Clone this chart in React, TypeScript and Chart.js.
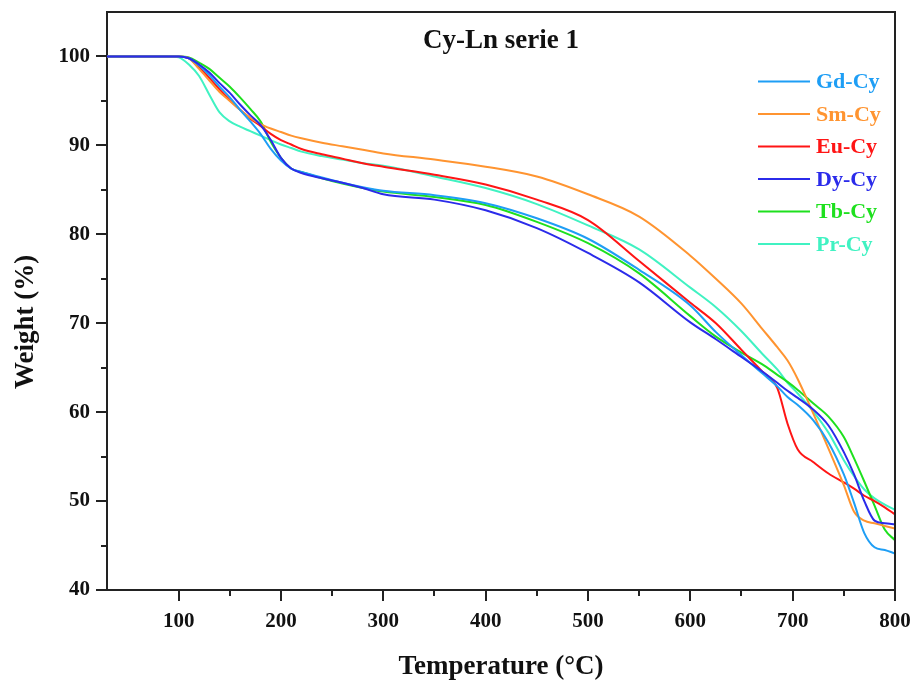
import React, { useEffect, useRef } from "react";
import { Chart, registerables } from "chart.js";

Chart.register(...registerables);

const temperatures = [30, 90, 100, 110, 120, 130, 140, 150, 160, 170, 180, 190, 200, 210, 220, 240, 260, 280, 300, 350, 400, 450, 500, 550, 600, 625, 650, 670, 685, 695, 705, 720, 735, 750, 760, 770, 780, 790, 800];

const gdCy = [100, 100, 100, 99.8, 99.0, 97.9, 96.6, 95.4, 94.0, 92.7, 91.3, 89.6, 88.3, 87.4, 87.0, 86.4, 85.8, 85.3, 84.9, 84.4, 83.5, 81.8, 79.5, 76.0, 72.0, 69.0, 66.4, 64.4, 62.9, 61.7, 60.8, 59.1, 56.6, 53.0, 49.8, 46.4, 44.8, 44.5, 44.1];
const smCy = [100, 100, 100, 99.8, 98.6, 97.3, 96.0, 95.0, 94.0, 93.1, 92.4, 91.9, 91.5, 91.1, 90.8, 90.3, 89.9, 89.5, 89.1, 88.4, 87.6, 86.5, 84.5, 82.0, 77.6, 75.0, 72.2, 69.4, 67.3, 65.8, 63.7, 59.9, 55.9, 51.8, 48.8, 47.8, 47.5, 47.2, 46.9];
const euCy = [100, 100, 100, 99.8, 98.8, 97.6, 96.3, 95.1, 94.0, 93.0, 92.2, 91.3, 90.6, 90.1, 89.6, 89.0, 88.5, 88.0, 87.6, 86.7, 85.6, 83.9, 81.6, 77.0, 72.3, 70.0, 67.0, 64.6, 62.7, 58.7, 55.8, 54.4, 53.1, 52.1, 51.4, 50.6, 50.0, 49.3, 48.5];
const dyCy = [100, 100, 100, 99.8, 99.1, 98.2, 97.0, 95.9, 94.6, 93.4, 92.3, 90.6, 88.6, 87.4, 86.9, 86.3, 85.8, 85.2, 84.5, 83.9, 82.7, 80.7, 77.9, 74.6, 70.1, 68.2, 66.2, 64.6, 63.3, 62.4, 61.6, 60.3, 58.5, 55.5, 53.0, 50.0, 47.8, 47.5, 47.4];
const tbCy = [100, 100, 100, 99.9, 99.3, 98.6, 97.6, 96.6, 95.4, 94.1, 92.7, 90.4, 88.6, 87.4, 87.0, 86.3, 85.7, 85.2, 84.8, 84.2, 83.3, 81.4, 79.0, 75.6, 70.8, 68.5, 66.7, 65.4, 64.2, 63.4, 62.5, 61.0, 59.5, 57.2, 54.8, 52.2, 49.5, 46.8, 45.6];
const prCy = [100, 100, 99.9, 99.1, 97.8, 95.7, 93.7, 92.7, 92.1, 91.6, 91.1, 90.6, 90.1, 89.7, 89.3, 88.8, 88.4, 88.0, 87.7, 86.5, 85.2, 83.4, 81.0, 78.3, 74.0, 71.8, 69.1, 66.6, 64.8, 63.3, 62.1, 60.1, 57.7, 54.6, 52.8, 51.3, 50.3, 49.6, 49.0];

const seriesLabels = ["Gd-Cy", "Sm-Cy", "Eu-Cy", "Dy-Cy", "Tb-Cy", "Pr-Cy"];
const seriesValues = [gdCy, smCy, euCy, dyCy, tbCy, prCy];
const seriesColors = ["#1E9EF5", "#FF9430", "#FF1515", "#2B2BEA", "#1EE01E", "#40F2C2"];
const seriesOrder = [1, 1, 1, 0, 1, 1];

const chartTitle = "Cy-Ln serie 1";
const xTitle = "Temperature (\u00B0C)";
const yTitle = "Weight (%)";

const SERIF = '"Liberation Serif", "Times New Roman", serif';

const decorPlugin = {
  id: "decor",
  afterDraw(chart: any) {
    const { ctx, chartArea, scales } = chart;
    const xs = scales.x;
    const ys = scales.y;
    ctx.save();
    ctx.strokeStyle = "#222";
    ctx.lineWidth = 2;
    // frame top and right
    ctx.beginPath();
    ctx.moveTo(chartArea.left - 1, chartArea.top);
    ctx.lineTo(chartArea.right, chartArea.top);
    ctx.lineTo(chartArea.right, chartArea.bottom + 1);
    ctx.stroke();
    // ticks
    ctx.beginPath();
    xs.ticks.forEach((t: any) => {
      const v = t.value;
      if (v % 50 !== 0) return;
      const len = v % 100 === 0 ? 11 : 6;
      const px = Math.round(xs.getPixelForValue(v));
      ctx.moveTo(px, chartArea.bottom);
      ctx.lineTo(px, chartArea.bottom + len);
    });
    ys.ticks.forEach((t: any) => {
      const v = t.value;
      if (v > 100) return;
      const len = v % 10 === 0 ? 11 : 6;
      const py = Math.round(ys.getPixelForValue(v));
      ctx.moveTo(chartArea.left, py);
      ctx.lineTo(chartArea.left - len, py);
    });
    ctx.stroke();

    // chart title
    ctx.fillStyle = "#111";
    ctx.font = `bold 27px ${SERIF}`;
    ctx.textAlign = "center";
    ctx.textBaseline = "alphabetic";
    ctx.fillText(chartTitle, (chartArea.left + chartArea.right) / 2, chartArea.top + 36);

    // x title
    ctx.fillText(xTitle, (chartArea.left + chartArea.right) / 2, 674);

    // y title
    ctx.save();
    ctx.translate(33, 322);
    ctx.rotate(-Math.PI / 2);
    ctx.fillText(yTitle, 0, 0);
    ctx.restore();

    // legend
    ctx.font = `bold 22px ${SERIF}`;
    ctx.textAlign = "left";
    ctx.textBaseline = "middle";
    chart.data.datasets.forEach((ds: any, i: number) => {
      const y = chartArea.top + 69.5 + i * 32.5;
      ctx.strokeStyle = ds.borderColor;
      ctx.lineWidth = 2;
      ctx.beginPath();
      ctx.moveTo(chartArea.right - 137, y);
      ctx.lineTo(chartArea.right - 85, y);
      ctx.stroke();
      ctx.fillStyle = ds.borderColor;
      ctx.fillText(ds.label, chartArea.right - 79, y + 1);
    });
    ctx.restore();
  },
};

export default function App() {
  const canvasRef = useRef<HTMLCanvasElement | null>(null);

  useEffect(() => {
    document.body.style.margin = "0";
    const canvas = canvasRef.current;
    if (!canvas) return;
    const datasets = seriesLabels.map((label, i) => ({
      label,
      data: temperatures.map((t, j) => ({ x: t, y: seriesValues[i][j] })),
      borderColor: seriesColors[i],
      backgroundColor: seriesColors[i],
      borderWidth: 2,
      pointRadius: 0,
      fill: false,
      cubicInterpolationMode: "monotone" as const,
      order: seriesOrder[i],
    }));
    const tickFont = { family: SERIF, size: 21, weight: "bold" as const };
    const chart = new Chart(canvas, {
      type: "line",
      data: { datasets },
      options: {
        animation: false,
        responsive: false,
        maintainAspectRatio: false,
        layout: { padding: { top: 12, right: 20, left: 0, bottom: 0 } },
        plugins: {
          legend: { display: false },
          tooltip: { enabled: false },
          title: { display: false },
        },
        scales: {
          x: {
            type: "linear",
            position: "bottom",
            min: 30,
            max: 800,
            grid: { display: false, drawTicks: true, tickLength: 11 },
            border: { display: true, color: "#222", width: 2 },
            ticks: {
              stepSize: 50,
              autoSkip: false,
              maxRotation: 0,
              padding: 8,
              color: "#111",
              font: tickFont,
              callback: (v: any) => (Number(v) % 100 === 0 ? String(v) : ""),
            },
            afterFit: (s: any) => {
              s.height = 93;
              s.paddingLeft = 0;
              s.paddingRight = 0;
            },
          },
          y: {
            type: "linear",
            min: 40,
            max: 105,
            grid: { display: false, drawTicks: true, tickLength: 11 },
            border: { display: true, color: "#222", width: 2 },
            ticks: {
              stepSize: 5,
              autoSkip: false,
              padding: 6,
              color: "#111",
              font: tickFont,
              callback: (v: any) => (Number(v) % 10 === 0 && Number(v) <= 100 ? String(v) : ""),
            },
            afterFit: (s: any) => {
              s.width = 107;
              s.paddingTop = 0;
              s.paddingBottom = 0;
            },
          },
        },
      },
      plugins: [decorPlugin],
    });
    return () => chart.destroy();
  }, []);

  return (
    <div style={{ width: 915, height: 683, background: "#fff" }}>
      <canvas ref={canvasRef} width={915} height={683} />
    </div>
  );
}
